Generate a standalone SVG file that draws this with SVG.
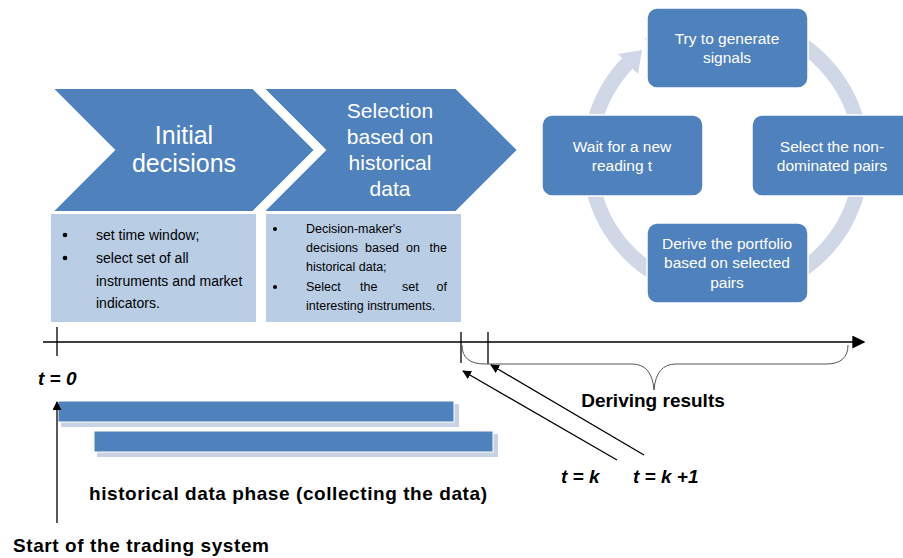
<svg xmlns="http://www.w3.org/2000/svg" width="903" height="558" viewBox="0 0 903 558">
<style>
.chev{fill:#4f81bd;stroke:#ffffff;stroke-width:2}
.note{fill:#b9cde5}
.cyc{fill:#4f81bd;stroke:#ffffff;stroke-width:1.5}
.wt{font-family:"Liberation Sans",Arial,sans-serif;fill:#ffffff;text-anchor:middle}
.nt{font-family:"Liberation Sans",Arial,sans-serif;fill:#000000}
.lb{font-family:"Liberation Sans",Arial,sans-serif;fill:#000000;font-weight:bold;font-size:19px}
.it{font-style:italic}
.ln{stroke:#000000;stroke-width:1.3;fill:none}
.bar{fill:#4f81bd;stroke:#ffffff;stroke-width:1}
.sh{fill:#c9d2e3}
</style>
<defs>
<marker id="ah" viewBox="0 0 10 10" refX="9" refY="5" markerWidth="9" markerHeight="9" markerUnits="userSpaceOnUse" orient="auto">
<path d="M0,0 L10,5 L0,10 Z" fill="#000"/>
</marker>
<marker id="ahL" viewBox="0 0 10 10" refX="9" refY="5" markerWidth="13" markerHeight="13" markerUnits="userSpaceOnUse" orient="auto">
<path d="M0,0 L10,5 L0,10 Z" fill="#000"/>
</marker>
</defs>
<rect width="903" height="558" fill="#ffffff"/>

<g id="chevron-initial">
<polygon class="chev" points="52,88 253,88 315,150 253,212 52,212 114,150"/>
<text class="wt" x="184" y="144" font-size="25">Initial</text>
<text class="wt" x="184" y="172" font-size="25">decisions</text>
</g>
<g id="chevron-selection">
<polygon class="chev" points="263,88 456,88 518,150 456,212 263,212 325,150"/>
<text class="wt" x="390" y="118" font-size="21">Selection</text>
<text class="wt" x="390" y="144" font-size="21">based on</text>
<text class="wt" x="390" y="170" font-size="21">historical</text>
<text class="wt" x="390" y="196" font-size="21">data</text>
</g>

<g id="note-initial">
<rect class="note" x="51" y="214" width="205" height="108"/>
<circle cx="65" cy="235" r="2.3" fill="#000"/>
<circle cx="65" cy="258" r="2.3" fill="#000"/>
<text class="nt" font-size="14" x="96" y="240">set time window;</text>
<text class="nt" font-size="14" x="96" y="263">select set of all</text>
<text class="nt" font-size="14" x="96" y="286">instruments and market</text>
<text class="nt" font-size="14" x="96" y="308">indicators.</text>
</g>
<g id="note-selection">
<rect class="note" x="266" y="214" width="195" height="108"/>
<circle cx="275" cy="229" r="2" fill="#000"/>
<circle cx="275" cy="287" r="2" fill="#000"/>
<text class="nt" font-size="12.5" x="306" y="233">Decision-maker's</text>
<text class="nt" font-size="12.5" x="306" y="252">decisions</text>
<text class="nt" font-size="12.5" x="365" y="252">based</text>
<text class="nt" font-size="12.5" x="406" y="252">on</text>
<text class="nt" font-size="12.5" x="447" y="252" text-anchor="end">the</text>
<text class="nt" font-size="12.5" x="306" y="271">historical data;</text>
<text class="nt" font-size="12.5" x="306" y="291">Select</text>
<text class="nt" font-size="12.5" x="360" y="291">the</text>
<text class="nt" font-size="12.5" x="402" y="291">set</text>
<text class="nt" font-size="12.5" x="447" y="291" text-anchor="end">of</text>
<text class="nt" font-size="12.5" x="306" y="310">interesting instruments.</text>
</g>

<g id="cycle-ring">
<path d="M649,45 A136,136 0 1 1 627.5,63.2" fill="none" stroke="#d0d8e8" stroke-width="15"/>
<polygon points="642,50 638,74 618,54" fill="#d0d8e8"/>
</g>
<g id="cycle-generate">
<rect class="cyc" x="647" y="8" width="161" height="80" rx="10"/>
<text class="wt" x="727" y="44" font-size="15.5">Try to generate</text>
<text class="wt" x="727" y="63" font-size="15.5">signals</text>
</g>
<g id="cycle-wait">
<rect class="cyc" x="542" y="115" width="161" height="81" rx="10"/>
<text class="wt" x="622" y="152" font-size="15.5">Wait for a new</text>
<text class="wt" x="622" y="171" font-size="15.5">reading t</text>
</g>
<g id="cycle-select">
<rect class="cyc" x="752" y="115" width="161" height="81" rx="10"/>
<text class="wt" x="832" y="152" font-size="15.5">Select the non-</text>
<text class="wt" x="832" y="171" font-size="15.5">dominated pairs</text>
</g>
<g id="cycle-derive">
<rect class="cyc" x="647" y="223" width="161" height="80" rx="10"/>
<text class="wt" x="727" y="249" font-size="15.5">Derive the portfolio</text>
<text class="wt" x="727" y="268" font-size="15.5">based on selected</text>
<text class="wt" x="727" y="288" font-size="15.5">pairs</text>
</g>

<g id="bars">
<rect class="sh" x="61" y="404" width="398" height="23"/>
<rect class="bar" x="58" y="401" width="396" height="21"/>
<rect class="sh" x="97" y="434" width="401" height="23"/>
<rect class="bar" x="94" y="431" width="399" height="21"/>
</g>

<g id="connectors">
<line class="ln" x1="43" y1="342" x2="864" y2="342" marker-end="url(#ahL)"/>
<line class="ln" x1="57" y1="327" x2="57" y2="356"/>
<line class="ln" x1="461" y1="332" x2="461" y2="363"/>
<line class="ln" x1="488" y1="332" x2="488" y2="364"/>
<path d="M462,345 Q462,364 485,364 L632,364 Q652,364 654,390 Q656,364 676,364 L826,364 Q848,364 848,345" fill="none" stroke="#555" stroke-width="1"/>
<line class="ln" x1="57" y1="523" x2="57" y2="402" marker-end="url(#ah)"/>
<line class="ln" x1="617" y1="460" x2="463" y2="371" marker-end="url(#ah)"/>
<line class="ln" x1="644" y1="455" x2="491" y2="365" marker-end="url(#ah)"/>
</g>

<g id="labels">
<text class="lb it" x="38" y="385">t = 0</text>
<text class="lb" x="653" y="407" text-anchor="middle">Deriving results</text>
<text class="lb it" x="561" y="483">t = k</text>
<text class="lb it" x="633" y="483">t = k +1</text>
<text class="lb" x="89" y="500" textLength="398">historical data phase (collecting the data)</text>
<text class="lb" x="13" y="552" textLength="256">Start of the trading system</text>
</g>
</svg>
